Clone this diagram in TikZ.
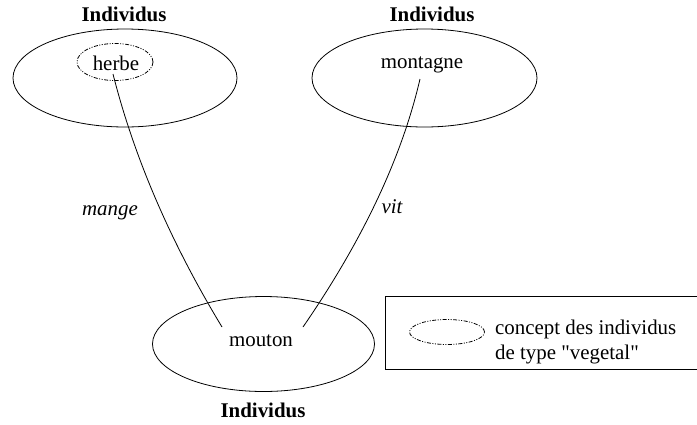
\documentclass[tikz,border=0pt]{standalone}
\usepackage{fontspec}
\setmainfont{Liberation Serif}[Ligatures=TeXOff]
\usetikzlibrary{shapes.geometric}
\begin{document}
\begin{tikzpicture}[x=1pt,y=-1pt,
  every node/.style={font=\fontsize{20.9}{25}\selectfont, inner sep=0pt},
  set/.style={draw, ellipse, line width=0.8pt},
  concept/.style={draw, ellipse, line width=0.8pt, dash pattern=on 4pt off 1.5pt on 1pt off 1.5pt on 1pt off 1.5pt},
  title/.style={font=\fontsize{20.9}{25}\selectfont\bfseries},
  rel/.style={font=\fontsize{20.9}{25}\selectfont\itshape},
  link/.style={line width=0.8pt}]
\clip (0,0) rectangle (697,424);
\useasboundingbox (0,0) rectangle (697,424);
% sets
\node[set, minimum width=224pt, minimum height=98pt] (e1) at (125,78) {};
\node[set, minimum width=225pt, minimum height=98pt] (e2) at (424.5,78) {};
\node[set, minimum width=222pt, minimum height=95pt] (e3) at (263.5,344) {};
\node[concept, minimum width=76pt, minimum height=37pt] (c1) at (115,62) {};
% titles
\node[title] (t1) at (124,14) {Individus};
\node[title] (t2) at (432,14) {Individus};
\node[title] (t3) at (263,410) {Individus};
% individuals
\node (herbe) at (116,63) {herbe};
\node (montagne) at (422,65) {montagne};
\node (mouton) at (261,341) {mouton};
% connector ends
\coordinate (h1) at (113,74);
\coordinate (m1) at (222,327);
\coordinate (g1) at (420,79);
\coordinate (m2) at (303,327);
\draw[link] (h1) .. controls (134.3,158) and (170.7,242.3) .. (m1);
\draw[link] (g1) .. controls (401.7,157.7) and (362.7,240.3) .. (m2);
\node[rel] (mange) at (110,213) {mange};
\node[rel] (vit) at (392,207) {vit};
% legend
\node[draw, line width=0.8pt, minimum width=330pt, minimum height=73pt, anchor=north west] (legend) at (385,296) {};
\node[concept, minimum width=75pt, minimum height=25pt] (lc) at (447,332) {};
\node[anchor=west, align=left] (ltext) at (495,342) {concept des individus\\de type "vegetal"};
\end{tikzpicture}
\end{document}
